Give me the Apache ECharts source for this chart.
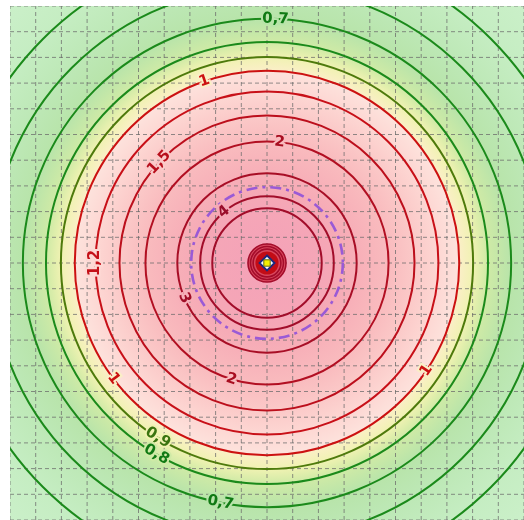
<!DOCTYPE html>
<html><head><meta charset="utf-8">
<script src="https://cdn.jsdelivr.net/npm/echarts@6/dist/echarts.min.js"></script>
<style>html,body{margin:0;padding:0;background:#fff}#c{width:524px;height:520px}</style>
</head><body><div id="c"></div>
<script>
// ---- data ----
const levels = [0.5, 0.6, 0.7, 0.8, 0.9, 1, 1.2, 1.5, 2, 3, 4, 5];
const levelRadius = [12.33, 10.74, 9.50, 8.60, 8.02, 7.48, 6.67, 5.74, 4.73, 3.49, 2.60, 2.13];
const coreRingRadius = [0.74, 0.64, 0.54];
const coreDiskRadius = 0.45;
const dashedRingRadius = 2.95;
const sourcePoint = [0, 0];
const labelTexts  = ['0,7', '1', '1,5', '2', '4', '1,2', '3', '1', '2', '0,9', '0,8', '0,7', '1'];
const labelLevels = [0.7, 1, 1.5, 2, 4, 1.2, 3, 1, 2, 0.9, 0.8, 0.7, 1];
const labelAngles = [88, 109, 137, 84, 130, 180, 203, 217, 253, 238, 240, 259, 326];
const axisMin = -10, axisMax = 10, axisStep = 1;

// ---- styles ----
const lineColors = ['#1b8a1b','#1b8a1b','#1b8a1b','#1b8a1b','#4e7a0c','#cc1111','#c81018','#bc0f1c','#b20f22','#a80e26','#a20d2a','#a20d2a'];
const textColors = ['#107a14','#107a14','#107a14','#107a14','#3a7410','#cc1111','#c41018','#b80f1c','#a80e20','#a00d26','#9a0c2a','#9a0c2a'];
const shadeInside  = ['#c5edc2','#bde8b6','#b8e4aa','#cfeaa6','#f0f2b2','#fde2dc','#fdd7d3','#fbc9c8','#f9bbbe','#f7afb8','#f5a8b6','#f5a6b7'];
const shadeOutside = ['#c5edc2','#bde8b6','#b8e4aa','#cfeaa6','#f0f2b2','#faefc6','#fdd7d3','#fbc9c8','#f9bbbe','#f7afb8','#f5a8b6','#f5a6b7'];
const shadeCenter = '#f4a2b8', shadeFar = '#cdf1cc', shadeReach = 15;

const chart = echarts.init(document.getElementById('c'), null, {renderer: 'canvas'});

function idxOf(lv){ return levels.indexOf(lv); }

const stops = [{offset: 0, color: shadeCenter}];
for (let i = levels.length - 1; i >= 0; i--) {
  const o = levelRadius[i] / shadeReach;
  if (shadeInside[i] !== shadeOutside[i]) {
    stops.push({offset: o - 0.003, color: shadeInside[i]});
    stops.push({offset: o + 0.003, color: shadeOutside[i]});
  } else {
    stops.push({offset: o, color: shadeInside[i]});
  }
}
stops.push({offset: 1, color: shadeFar});

const axisCommon = {
  type: 'value', min: axisMin, max: axisMax, interval: axisStep,
  axisLine: {show: false}, axisTick: {show: false}, axisLabel: {show: false},
  splitLine: {show: false}
};

chart.setOption({
  animation: false,
  grid: {left: 10, top: 6, width: 516, height: 516, show: false},
  xAxis: Object.assign({}, axisCommon),
  yAxis: Object.assign({}, axisCommon),
  series: [
    { // smooth shading
      type: 'custom', clip: true, z: 1,
      data: [[sourcePoint[0], sourcePoint[1]]],
      renderItem: function(params, api){
        const c = api.coord([api.value(0), api.value(1)]);
        const r = api.size([shadeReach, 0])[0];
        return {type: 'circle', shape: {cx: c[0], cy: c[1], r: r},
          style: {fill: new echarts.graphic.RadialGradient(0.5, 0.5, 0.5, stops)}};
      }
    },
    { // grid lines drawn over the shading
      type: 'custom', clip: true, z: 2, silent: true,
      data: [[0, 0]],
      renderItem: function(params, api){
        const kids = [];
        for (let v = axisMin; v <= axisMax; v += axisStep) {
          const a = api.coord([v, axisMin]), b = api.coord([v, axisMax]);
          kids.push({type: 'line', shape: {x1: a[0], y1: a[1], x2: b[0], y2: b[1]},
            style: {stroke: 'rgba(105,105,105,0.75)', lineWidth: 1, lineDash: [4, 3]}});
          const p = api.coord([axisMin, v]), q = api.coord([axisMax, v]);
          kids.push({type: 'line', shape: {x1: p[0], y1: p[1], x2: q[0], y2: q[1]},
            style: {stroke: 'rgba(105,105,105,0.75)', lineWidth: 1, lineDash: [4, 3]}});
        }
        return {type: 'group', children: kids};
      }
    },
    { // contour lines
      type: 'custom', clip: true, z: 3,
      data: levels.map((lv, i) => [sourcePoint[0], sourcePoint[1], levelRadius[i], i]),
      renderItem: function(params, api){
        const c = api.coord([api.value(0), api.value(1)]);
        const r = api.size([api.value(2), 0])[0];
        const i = api.value(3);
        return {type: 'circle', shape: {cx: c[0], cy: c[1], r: r},
          style: {fill: 'none', stroke: lineColors[i], lineWidth: 2}};
      }
    },
    { // dash-dot ring
      type: 'custom', clip: true, z: 4,
      data: [[sourcePoint[0], sourcePoint[1], dashedRingRadius]],
      renderItem: function(params, api){
        const c = api.coord([api.value(0), api.value(1)]);
        const r = api.size([api.value(2), 0])[0];
        return {type: 'circle', shape: {cx: c[0], cy: c[1], r: r},
          style: {fill: 'none', stroke: '#9a5ad6', lineWidth: 2.6, lineDash: [11, 5, 3, 5]}};
      }
    },
    { // core: rings, disk, marker
      type: 'custom', clip: true, z: 5,
      data: [[sourcePoint[0], sourcePoint[1]]],
      renderItem: function(params, api){
        const c = api.coord([api.value(0), api.value(1)]);
        const px = v => api.size([v, 0])[0];
        const kids = [{type: 'circle', shape: {cx: c[0], cy: c[1], r: px(coreRingRadius[0])},
          style: {fill: '#d9485e'}}];
        coreRingRadius.forEach(rr => kids.push({type: 'circle', shape: {cx: c[0], cy: c[1], r: px(rr)},
          style: {fill: 'none', stroke: '#a40c2a', lineWidth: 1.6}}));
        kids.push({type: 'circle', shape: {cx: c[0], cy: c[1], r: px(coreDiskRadius)}, style: {fill: '#c20c16'}});
        const d = 7.5;
        kids.push({type: 'polygon', shape: {points: [[c[0], c[1]-d],[c[0]+d, c[1]],[c[0], c[1]+d],[c[0]-d, c[1]]]},
          style: {fill: '#ffffff', stroke: '#1a2a80', lineWidth: 1.8}});
        kids.push({type: 'rect', shape: {x: c[0]-3.2, y: c[1]-3.2, width: 6.4, height: 6.4},
          style: {fill: '#f4f000', stroke: '#6a6a10', lineWidth: 1}});
        return {type: 'group', children: kids};
      }
    },
    { // contour labels
      type: 'custom', clip: true, z: 6,
      data: labelTexts.map((t, i) => [labelLevels[i], labelAngles[i], i]),
      renderItem: function(params, api){
        const k = api.value(2);
        const li = idxOf(labelLevels[k]);
        const rad = levelRadius[li];
        const phi = labelAngles[k] * Math.PI / 180;
        const p = api.coord([sourcePoint[0] + rad * Math.cos(phi), sourcePoint[1] + rad * Math.sin(phi)]);
        let rot = labelAngles[k] - 90;
        while (rot > 90) rot -= 180;
        while (rot <= -90) rot += 180;
        return {type: 'text', x: p[0], y: p[1], rotation: rot * Math.PI / 180,
          style: {text: labelTexts[k], fill: textColors[li],
            fontFamily: 'DejaVu Sans', fontWeight: 'bold', fontSize: 15,
            stroke: shadeOutside[li], lineWidth: 4,
            align: 'center', verticalAlign: 'middle'}};
      }
    }
  ]
});
</script></body></html>
